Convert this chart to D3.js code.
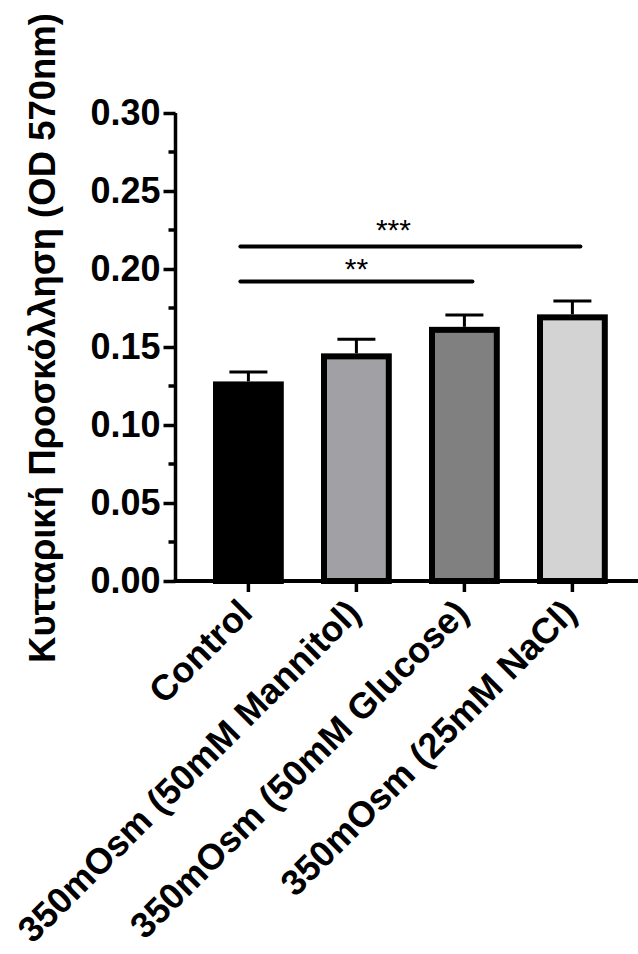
<!DOCTYPE html>
<html>
<head>
<meta charset="utf-8">
<script src="https://cdn.jsdelivr.net/npm/d3@7"></script>
<style>
  html, body { margin: 0; padding: 0; background: #fff; }
  svg { display: block; }
  text { font-family: "Liberation Sans", Arial, sans-serif; fill: #000; }
</style>
</head>
<body>
<svg id="chart" width="638" height="954"></svg>
<script>
// ---- data ----
const categories = ["Control", "350mOsm (50mM Mannitol)", "350mOsm (50mM Glucose)", "350mOsm (25mM NaCl)"];
const means = [0.126, 0.144, 0.161, 0.169];
const errors = [0.008, 0.011, 0.0095, 0.0105];
const barColors = ["#000000", "#a1a1a5", "#808080", "#d3d3d3"];
const yMajorTicks = [0, 0.05, 0.10, 0.15, 0.20, 0.25, 0.30];
const yMinorTicks = [0.025, 0.075, 0.125, 0.175, 0.225, 0.275];
const yTickLabels = ["0.00", "0.05", "0.10", "0.15", "0.20", "0.25", "0.30"];
const yTitle = "Κυτταρική Προσκόλληση (OD 570nm)";
const compFrom = [0, 0];
const compTo = [2, 3];
const compY = [0.192, 0.2145];
const compLabel = ["**", "***"];

// ---- layout ----
const svg = d3.select("#chart");
const axisX = 175.5, axisY = 581, axisTop = 113;
const labelDx = [0, -17];   // text placement offsets for significance labels
const labelDy = [-2, -6];

const y = d3.scaleLinear().domain([0, 0.30]).range([axisY, axisTop]);
const x = d3.scaleBand().domain(categories).range([axisX, axisX + 108 * 4.35])
  .paddingInner(0.4).paddingOuter(0.375);

// bars
const bw = x.bandwidth();
svg.append("g").selectAll("rect").data(categories).join("rect")
  .attr("x", d => x(d))
  .attr("y", (d, i) => y(means[i]))
  .attr("width", bw)
  .attr("height", (d, i) => y(0) - y(means[i]))
  .attr("fill", (d, i) => barColors[i])
  .attr("stroke", "#000")
  .attr("stroke-width", 6);

// error bars (upper only)
const eg = svg.append("g").attr("stroke", "#000").attr("stroke-width", 3);
categories.forEach((c, i) => {
  const cx = x(c) + bw / 2;
  eg.append("line").attr("x1", cx).attr("x2", cx)
    .attr("y1", y(means[i]) - 3).attr("y2", y(means[i] + errors[i]));
  eg.append("line").attr("x1", cx - 19).attr("x2", cx + 19)
    .attr("y1", y(means[i] + errors[i])).attr("y2", y(means[i] + errors[i]));
});

// y axis
const yAxis = d3.axisLeft(y).tickValues(yMajorTicks)
  .tickFormat((d, i) => yTickLabels[i]).tickSize(12).tickPadding(3);
const gy = svg.append("g").attr("transform", `translate(${axisX},0)`).call(yAxis);
gy.select(".domain").attr("stroke-width", 3.5).attr("d", `M0,${axisTop}V${axisY}`);
gy.selectAll(".tick line").attr("stroke-width", 3.5);
gy.selectAll(".tick text")
  .style("font-family", '"Liberation Sans", Arial, sans-serif')
  .style("font-weight", "bold").style("font-size", "36px");
gy.selectAll(".minor").data(yMinorTicks).join("line")
  .attr("class", "minor")
  .attr("x1", -7).attr("x2", 0)
  .attr("y1", d => y(d)).attr("y2", d => y(d))
  .attr("stroke", "#000").attr("stroke-width", 3.5);

// x axis
const xAxis = d3.axisBottom(x).tickSize(11).tickSizeOuter(0);
const gx = svg.append("g").attr("transform", `translate(0,${axisY})`).call(xAxis);
gx.select(".domain").attr("stroke-width", 4).attr("d", `M${axisX - 1.75},0H640`);
gx.selectAll(".tick line").attr("stroke-width", 3.5);
gx.selectAll(".tick text")
  .style("font-family", '"Liberation Sans", Arial, sans-serif')
  .style("font-weight", "bold").style("font-size", "36px")
  .attr("text-anchor", "end")
  .attr("dy", null).attr("y", 0)
  .attr("transform", "translate(6,34) rotate(-45)");

// y title
svg.append("text")
  .attr("transform", `translate(55,${(15 + 661) / 2}) rotate(-90)`)
  .attr("text-anchor", "middle")
  .style("font-weight", "bold").style("font-size", "36.5px")
  .text(yTitle);

// significance brackets
compY.forEach((v, i) => {
  const x1 = x(categories[compFrom[i]]) + bw / 2 - 8;
  const x2 = x(categories[compTo[i]]) + bw / 2 + 8;
  svg.append("line").attr("x1", x1).attr("x2", x2)
    .attr("y1", y(v)).attr("y2", y(v))
    .attr("stroke", "#000").attr("stroke-width", 4).attr("stroke-linecap", "round");
  svg.append("text").attr("x", (x1 + x2) / 2 + labelDx[i]).attr("y", y(v) + labelDy[i])
    .attr("text-anchor", "middle")
    .style("font-size", "30px")
    .text(compLabel[i]);
});
</script>
</body>
</html>
